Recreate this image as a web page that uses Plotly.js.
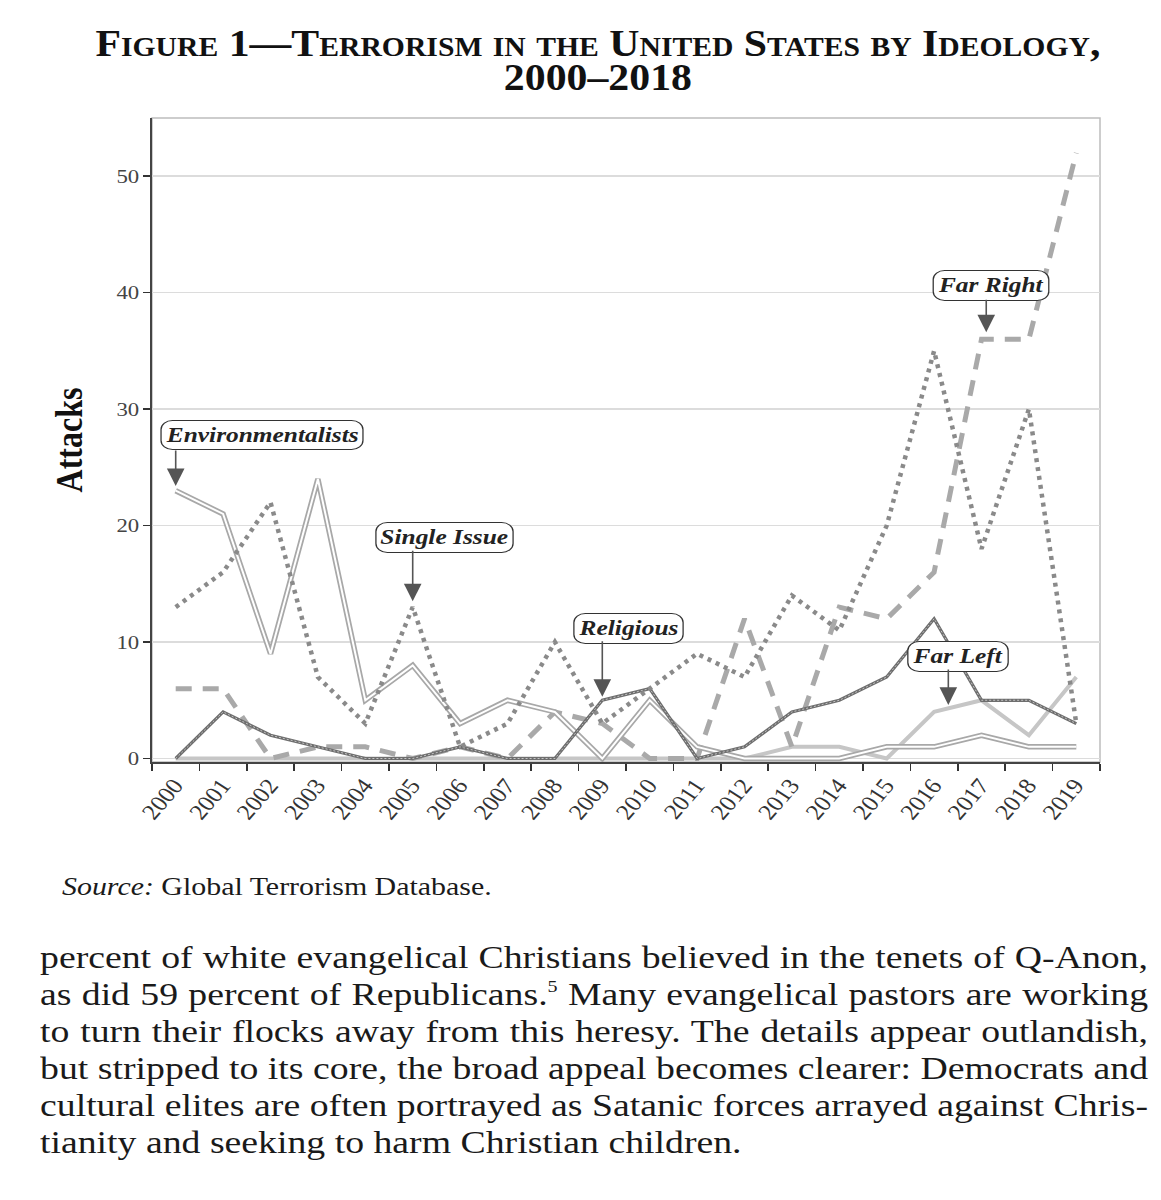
<!DOCTYPE html>
<html>
<head>
<meta charset="utf-8">
<script src="https://cdn.plot.ly/plotly-3.0.1.min.js"></script>
<style>
  html, body { margin: 0; padding: 0; background: #fff; }
  #wrap { position: relative; width: 1161px; height: 1200px; overflow: hidden; }
  #chart { position: absolute; left: 0; top: 0; width: 1161px; height: 1200px; }
  .txt { position: absolute; font-family: "Liberation Serif", "Times New Roman", serif; color: #1a1a1a;
         transform-origin: left top; }
  #source { top: 871px; left: 62px; font-size: 26px; line-height: 32px; transform: scaleX(1.15); }
  #body { top: 939px; left: 40px; width: 939px; font-size: 32px; line-height: 37px; transform: scaleX(1.18); }
  #body div { white-space: nowrap; text-align: justify; text-align-last: justify; }
  #body div.last { text-align: left; text-align-last: left; }
  sup { font-size: 17px; vertical-align: 13px; line-height: 0; }
</style>
</head>
<body>
<div id="wrap">
  <div id="chart"></div>
  <div id="source" class="txt"><i>Source:</i> Global Terrorism Database.</div>
  <div id="body" class="txt">
    <div>percent of white evangelical Christians believed in the tenets of Q-Anon,</div>
    <div>as did 59 percent of Republicans.<sup>5</sup> Many evangelical pastors are working</div>
    <div>to turn their flocks away from this heresy. The details appear outlandish,</div>
    <div>but stripped to its core, the broad appeal becomes clearer: Democrats and</div>
    <div>cultural elites are often portrayed as Satanic forces arrayed against Chris-</div>
    <div class="last">tianity and seeking to harm Christian children.</div>
  </div>
</div>
<script>
const years = ['2000','2001','2002','2003','2004','2005','2006','2007','2008','2009',
               '2010','2011','2012','2013','2014','2015','2016','2017','2018','2019'];
const environmentalists = [23,21,9,24,5,8,3,5,4,0,5,1,0,0,0,1,1,2,1,1];
const singleIssue       = [13,16,22,7,3,13,1,3,10,3,6,9,7,14,11,20,35,18,30,3];
const religious         = [0,4,2,1,0,0,1,0,0,5,6,0,1,4,5,7,12,5,5,3];
const farRight          = [6,6,0,1,1,0,1,0,4,3,0,0,12,1,13,12,16,36,36,52];
const farLeft           = [0,0,0,0,0,0,0,0,0,0,0,0,0,1,1,0,4,5,2,7];
const yTicks = [0,10,20,30,40,50];

const SERIF = '"Liberation Serif", "Times New Roman", serif';

const traces = [
  {x: years, y: farLeft, name: 'Far Left', mode: 'lines',
   line: {color: '#c6c6c6', width: 4}},
  {x: years, y: farRight, name: 'Far Right', mode: 'lines',
   line: {color: '#a9a9a9', width: 5, dash: '16px,11px'}},
  {x: years, y: environmentalists, name: 'Environmentalists', mode: 'lines',
   line: {color: '#a8a8a8', width: 5.5}},
  {x: years, y: environmentalists, name: 'Environmentalists', mode: 'lines', showlegend: false,
   line: {color: '#ffffff', width: 2}},
  {x: years, y: religious, name: 'Religious', mode: 'lines',
   line: {color: '#6e6e6e', width: 3.2}},
  {x: years, y: religious, name: 'Religious', mode: 'lines', showlegend: false,
   line: {color: '#c4c4c4', width: 1, dash: '2px,2px'}},
  {x: years, y: singleIssue, name: 'Single Issue', mode: 'lines',
   line: {color: '#8a8a8a', width: 4.5, dash: '4px,5px'}}
];

function label(text, xi, yv) {
  return {x: xi, y: yv, xref: 'x', yref: 'y', text: '<b><i>' + text + '</i></b>', showarrow: false,
          font: {family: SERIF, size: 20, color: '#222'}, bgcolor: '#ffffff',
          bordercolor: '#333', borderwidth: 1, borderpad: 3};
}
function arrow(xi, yv, len) {
  return {x: xi, y: yv, xref: 'x', yref: 'y', text: '', showarrow: true, ax: 0, ay: -len,
          arrowhead: 2, arrowsize: 2.2, arrowwidth: 1.6, arrowcolor: '#555555'};
}

const layout = {
  width: 1161, height: 1200,
  paper_bgcolor: '#ffffff', plot_bgcolor: '#ffffff',
  margin: {l: 152, r: 61, t: 118, b: 438},
  showlegend: false,
  title: {
    text: 'Figure 1—Terrorism in the United States by Ideology,<br>2000–2018',
    font: {family: SERIF, size: 37, color: '#111', weight: 'bold', variant: 'small-caps'},
    xref: 'container', yref: 'container', x: 0.515, y: 0.953, xanchor: 'center', yanchor: 'top'
  },
  xaxis: {
    type: 'category', tickson: 'boundaries', ticks: 'outside', ticklen: 7, tickwidth: 1.5,
    tickcolor: '#333', showline: true, linecolor: '#444', linewidth: 2,
    showgrid: false, zeroline: false, tickangle: -53,
    tickfont: {family: SERIF, size: 22, color: '#333'},
    range: [-0.5, 19.5]
  },
  yaxis: {
    range: [-0.3, 55], tickvals: yTicks, ticktext: yTicks.map(String),
    ticks: 'outside', ticklen: 7, tickwidth: 1.5, tickcolor: '#333',
    showline: true, linecolor: '#444', linewidth: 2,
    showgrid: true, gridcolor: '#dcdcdc', gridwidth: 1.5, zeroline: false,
    tickfont: {family: SERIF, size: 19, color: '#444'},
    title: {text: '<b>Attacks</b>', font: {family: SERIF, size: 32, color: '#111'}, standoff: 28}
  },
  shapes: [
    {type: 'rect', xref: 'paper', yref: 'paper', x0: 0, x1: 1, y0: 0, y1: 1,
     line: {color: '#bdbdbd', width: 1.5}, layer: 'below'}
  ],
  annotations: [
    label('Environmentalists', 1.82, 27.75), arrow(0, 23.4, 37),
    label('Single Issue', 5.68, 19.0), arrow(5.0, 13.5, 52),
    label('Religious', 9.55, 11.2), arrow(9.0, 5.3, 57),
    label('Far Right', 17.2, 40.6), arrow(17.1, 36.6, 34),
    label('Far Left', 16.5, 8.8), arrow(16.3, 4.6, 37)
  ]
};

// widen a text horizontally (in its parent's frame) about its own anchor point
function stretchAt(el, s) {
  const x = parseFloat(el.getAttribute('x')) || 0;
  const y = parseFloat(el.getAttribute('y')) || 0;
  const prev = el.getAttribute('transform') || '';
  let px = x, py = y;
  const tl = el.transform && el.transform.baseVal;
  if (tl && tl.numberOfItems > 0) {
    const m = tl.consolidate().matrix;
    px = m.a * x + m.c * y + m.e;
    py = m.b * x + m.d * y + m.f;
  }
  el.setAttribute('transform', 'translate(' + px + ',' + py + ') scale(' + s + ',1) translate(' + (-px) + ',' + (-py) + ') ' + prev);
}

Plotly.newPlot('chart', traces, layout, {displayModeBar: false, staticPlot: true}).then(function () {
  const root = document.getElementById('chart');
  root.querySelectorAll('.annotation rect.bg').forEach(function (r) {
    r.setAttribute('rx', 9); r.setAttribute('ry', 9);
    const g = r.parentNode;
    const bb = g.getBBox();
    const cx = bb.x + bb.width / 2;
    const prev = g.getAttribute('transform') || '';
    g.setAttribute('transform', prev + ' translate(' + cx + ',0) scale(1.27,1) translate(' + (-cx) + ',0)');
  });
  root.querySelectorAll('.xtick text').forEach(function (t) { stretchAt(t, 1.15); });
  root.querySelectorAll('.ytick text').forEach(function (t) { stretchAt(t, 1.2); });
  root.querySelectorAll('.g-ytitle text').forEach(function (t) { stretchAt(t, 1.2); });
  const title = root.querySelector('.gtitle');
  if (title) {
    const lines = title.querySelectorAll('tspan.line');
    if (lines.length > 1) lines[1].setAttribute('dy', '0.9em');
    stretchAt(title, 1.13);
  }
});
</script>
</body>
</html>
